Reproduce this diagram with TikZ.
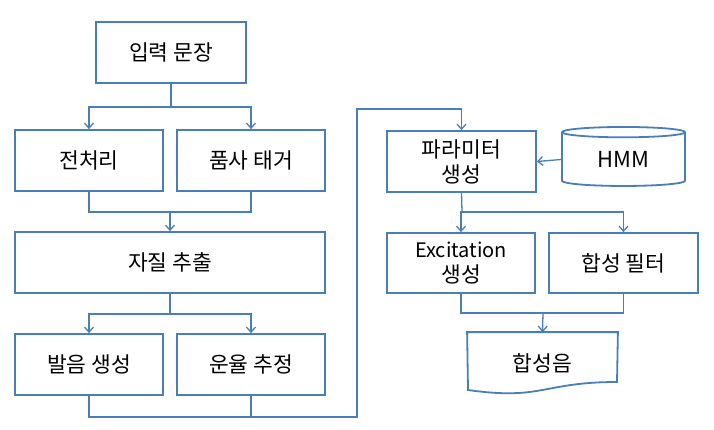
\documentclass[tikz,border=0pt]{standalone}
\usepackage{fontspec}
\setmainfont{Noto Sans CJK KR}
\usetikzlibrary{arrows.meta,shapes.geometric}
\definecolor{lineblue}{RGB}{74,126,187}
\newcommand{\latin}[1]{{\fontsize{20}{25}\selectfont #1}}
\begin{document}
\begin{tikzpicture}[x=1pt,y=-1pt,
  box/.style={draw=lineblue,line width=1.8pt,minimum height=61pt,inner sep=0pt,
    align=center,font=\fontsize{21.5}{25}\selectfont},
  link/.style={draw=lineblue,line width=1.3pt},
  arr/.style={link,-{Straight Barb[length=5pt,width=9pt]}}]
  \useasboundingbox (0,0) rectangle (714,429);
  \node[box,minimum width=150pt] (input) at (171,52.5) {입력 문장};
  \node[box,minimum width=148pt] (pre) at (89,160.5) {전처리};
  \node[box,minimum width=148pt] (tagger) at (251,160.5) {품사 태거};
  \node[box,minimum width=310pt] (feat) at (170,262.5) {자질 추출};
  \node[box,minimum width=148pt] (pron) at (89,364.5) {발음 생성};
  \node[box,minimum width=148pt] (prosody) at (251,364.5) {운율 추정};
  \node[box,minimum width=149pt] (param) at (461.5,161.5) {파라미터\\생성};
  \node[box,cylinder,shape border rotate=90,aspect=0.2,minimum width=123pt,
    minimum height=59pt,font=\fontsize{22}{25}\selectfont] (hmm) at (623.5,159.5) {HMM};
  \node[box,minimum width=148pt,minimum height=60pt] (exc) at (461,263) {\latin{Excitation}\\생성};
  \node[box,minimum width=149pt,minimum height=60pt] (filt) at (623.5,263) {합성 필터};
  \node[box,draw=none,minimum width=149pt] (out) at (542.5,363.5) {합성음};
  \draw[box] (out.north west) -- (out.north east) -- (617,382)
    .. controls (542.5,382) and (542.5,400.6) .. (468,390) -- cycle;
  \coordinate (s1) at (171,107);
  \coordinate (j1) at (170,212);
  \coordinate (s2) at (170,314);
  \coordinate (c1) at (357,417);
  \coordinate (c2) at (357,109);
  \coordinate (s3) at (462,212);
  \coordinate (j2) at (543,313);
  \draw[link] (input.south) -- (s1);
  \draw[arr] (s1) -| (pre.north);
  \draw[arr] (s1) -| (tagger.north);
  \draw[link] (pre.south) |- (j1);
  \draw[link] (tagger.south) |- (j1);
  \draw[arr] (j1) -- (feat.north);
  \draw[link] (feat.south) -- (s2);
  \draw[arr] (s2) -| (pron.north);
  \draw[arr] (s2) -| (prosody.north);
  \draw[link] (prosody.south) |- (c1);
  \draw[arr] (pron.south) |- (c1) -- (c2) -| (param.north);
  \draw[arr] (hmm.west) -- (param.east);
  \draw[link] (param.south) -- (s3);
  \draw[arr] (s3) -| (exc.north);
  \draw[arr] (s3) -| (filt.north);
  \draw[link] (exc.south) |- (j2);
  \draw[link] (filt.south) |- (j2);
  \draw[arr] (j2) -- (out.north);
\end{tikzpicture}
\end{document}
